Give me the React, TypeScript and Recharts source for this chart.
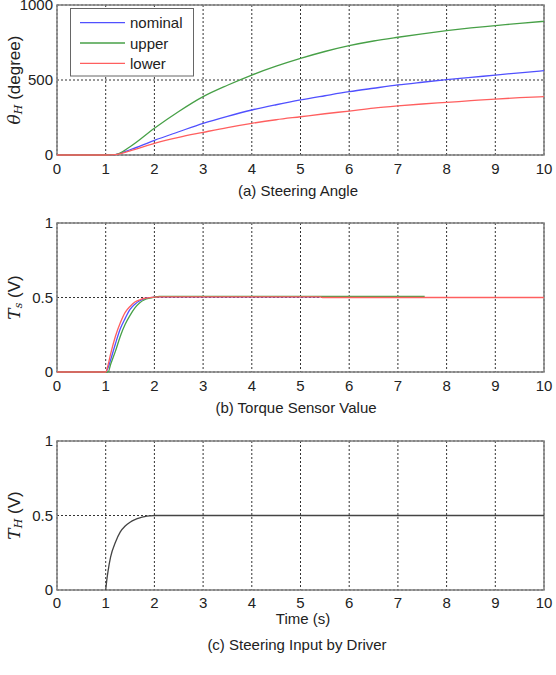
import React from 'react';
import { LineChart, Line, XAxis, YAxis, CartesianGrid, ReferenceArea } from 'recharts';

// ---- shared axis ticks ----
const timeTicks = [0, 1, 2, 3, 4, 5, 6, 7, 8, 9, 10];
const angleTicks = [0, 500, 1000];
const voltTicks = [0, 0.5, 1];

// ---- series names / colours ----
const seriesNames = ['nominal', 'upper', 'lower'];
const seriesColors = ['#5050ff', '#47a047', '#ff5f5f'];

// ---- (a) steering angle ----
const timeA = [0, 0.5, 1, 1.2, 1.5, 2, 2.5, 3, 3.5, 4, 4.5, 5, 5.5, 6, 6.5, 7, 7.5, 8, 8.5, 9, 9.5, 10];
const nominalA = [0, 0, 0, 3, 35, 98, 155, 211, 258, 300, 335, 367, 395, 422, 445, 467, 485, 502, 517, 533, 548, 562];
const upperA = [0, 0, 0, 3, 55, 178, 290, 389, 465, 533, 592, 644, 690, 729, 760, 785, 808, 829, 847, 862, 878, 891];
const lowerA = [0, 0, 0, 3, 28, 78, 118, 151, 183, 211, 235, 255, 275, 293, 312, 327, 340, 351, 362, 373, 382, 389];

// ---- (b) torque sensor value ----
const timeB = [0, 1, 1.05, 1.1, 1.2, 1.3, 1.4, 1.5, 1.6, 1.7, 1.8, 1.9, 2, 2.1, 5.4, 5.45, 7.55, 10];
const nominalB = [0, 0, 0.03, 0.08, 0.19, 0.29, 0.36, 0.42, 0.455, 0.478, 0.492, 0.498, 0.503, 0.505, 0.505, null, null, null];
const upperB = [0, 0, 0.0, 0.05, 0.14, 0.24, 0.32, 0.38, 0.43, 0.465, 0.485, 0.495, 0.502, 0.508, 0.508, 0.508, 0.508, null];
const lowerB = [0, 0, 0.05, 0.12, 0.24, 0.33, 0.4, 0.44, 0.47, 0.485, 0.495, 0.499, 0.502, 0.504, 0.504, 0.5, 0.5, 0.5];

// ---- (c) steering input by driver ----
const timeC = [1, 1.02, 1.05, 1.1, 1.2, 1.3, 1.4, 1.5, 1.6, 1.7, 1.8, 1.9, 2, 10];
const torqueC = [0, 0.06, 0.13, 0.22, 0.32, 0.39, 0.43, 0.455, 0.472, 0.484, 0.492, 0.497, 0.5, 0.5];

const tableA = timeA.map((t, i) => ({ t, nominal: nominalA[i], upper: upperA[i], lower: lowerA[i] }));
const tableB = timeB.map((t, i) => ({ t, nominal: nominalB[i], upper: upperB[i], lower: lowerB[i] }));
const tableC = timeC.map((t, i) => ({ t, th: torqueC[i] }));

const FONT = '"Liberation Sans", Arial, sans-serif';
const TEXT = '#222';
const W = 556;
const X_AXIS_H = 25;
const BOTTOM_PAD = 20;

type TitleProps = { main: string; sub: string; unit: string; viewBox?: any };

// rotated y-axis title with italic symbol and subscript
const AxisTitle = ({ main, sub, unit, viewBox }: TitleProps) => {
  const cx = 14;
  const cy = viewBox ? viewBox.y + viewBox.height / 2 : 80;
  return (
    <text
      x={cx}
      y={cy}
      transform={`rotate(-90 ${cx} ${cy})`}
      textAnchor="middle"
      dominantBaseline="central"
      fontSize={17}
      fill={TEXT}
      fontFamily={FONT}
    >
      <tspan fontStyle="italic" fontFamily='"DejaVu Serif", serif'>{main}</tspan>
      <tspan fontStyle="italic" fontFamily='"DejaVu Serif", serif' fontSize={11} dy={4}>{sub}</tspan>
      <tspan dy={-4}>{' ' + unit}</tspan>
    </text>
  );
};

type PanelProps = {
  plotTop: number;
  topPad: number;
  plotH: number;
  tickGap?: number;
  data: any[];
  yMax: number;
  yTicks: number[];
  title: TitleProps;
  children: React.ReactNode;
};

const Panel = ({ plotTop, topPad, plotH, tickGap = 6, data, yMax, yTicks, title, children }: PanelProps) => (
  <div style={{ position: 'absolute', left: 0, top: plotTop - topPad }}>
    <LineChart
      width={W}
      height={topPad + plotH + X_AXIS_H + BOTTOM_PAD}
      data={data}
      margin={{ top: topPad, right: 12, left: 0, bottom: BOTTOM_PAD }}
      style={{ fontFamily: FONT }}
    >
      <CartesianGrid stroke="#333" strokeDasharray="2 2" strokeWidth={1} />
      <XAxis
        type="number"
        dataKey="t"
        domain={[0, 10]}
        ticks={timeTicks}
        interval={0}
        height={X_AXIS_H}
        axisLine={false}
        tickLine={false}
        tickSize={2}
        tickMargin={tickGap}
        tick={{ fontSize: 15, fill: TEXT }}
      />
      <YAxis
        type="number"
        domain={[0, yMax]}
        ticks={yTicks}
        interval={0}
        width={57}
        axisLine={false}
        tickLine={false}
        tickSize={2}
        tickMargin={2}
        tick={{ fontSize: 15, fill: TEXT }}
        label={(p: any) => <AxisTitle {...title} viewBox={p.viewBox} />}
      />
      <ReferenceArea
        x1={0}
        x2={10}
        y1={0}
        y2={yMax}
        fill="none"
        fillOpacity={0}
        stroke="#808080"
        strokeWidth={1.5}
        ifOverflow="visible"
      />
      {children}
    </LineChart>
  </div>
);

const Caption = ({ text, cx, cy }: { text: string; cx: number; cy: number }) => (
  <div
    style={{
      position: 'absolute',
      left: cx - 200,
      top: cy - 8,
      width: 400,
      height: 16,
      lineHeight: '16px',
      textAlign: 'center',
      fontFamily: FONT,
      fontSize: 15,
      color: TEXT,
      whiteSpace: 'nowrap',
    }}
  >
    {text}
  </div>
);

const LegendBox = () => (
  <svg style={{ position: 'absolute', left: 0, top: 0 }} width={W} height={90}>
    <rect x={70.5} y={8.5} width={123} height={67.5} fill="#fff" stroke="#666" strokeWidth={1} />
    {seriesNames.map((name, i) => {
      const y = 22.7 + i * 20.3;
      return (
        <g key={name}>
          <line x1={80} x2={125} y1={y} y2={y} stroke={seriesColors[i]} strokeWidth={1.3} />
          <text x={130} y={y} dominantBaseline="central" fontSize={15} fill={TEXT} fontFamily={FONT}>
            {name}
          </text>
        </g>
      );
    })}
  </svg>
);

export default function App() {
  return (
    <div style={{ position: 'absolute', left: 0, top: 0, width: W, height: 675, background: '#fff', overflow: 'hidden' }}>
      <Panel plotTop={5} topPad={5} plotH={150} data={tableA} yMax={1000} yTicks={angleTicks} title={{ main: 'θ', sub: 'H', unit: '(degree)' }}>
        {seriesNames.map((name, i) => (
          <Line
            key={name}
            dataKey={name}
            type="monotone"
            stroke={seriesColors[i]}
            strokeWidth={1.3}
            dot={false}
            isAnimationActive={false}
          />
        ))}
      </Panel>
      <LegendBox />
      <Caption text="(a) Steering Angle" cx={298} cy={191} />

      <Panel plotTop={223} topPad={15} plotH={149} data={tableB} yMax={1} yTicks={voltTicks} title={{ main: 'T', sub: 's', unit: '(V)' }}>
        {[0, 1, 2].map((i) => (
          <Line
            key={seriesNames[i]}
            dataKey={seriesNames[i]}
            type="monotone"
            stroke={seriesColors[i]}
            strokeWidth={1.3}
            dot={false}
            connectNulls={false}
            isAnimationActive={false}
          />
        ))}
      </Panel>
      <Caption text="(b) Torque Sensor Value" cx={296} cy={408} />

      <Panel plotTop={441} topPad={15} plotH={149} tickGap={5} data={tableC} yMax={1} yTicks={voltTicks} title={{ main: 'T', sub: 'H', unit: '(V)' }}>
        <Line dataKey="th" type="monotone" stroke="#444" strokeWidth={1.3} dot={false} isAnimationActive={false} />
      </Panel>
      <Caption text="Time (s)" cx={303} cy={619} />
      <Caption text="(c) Steering Input by Driver" cx={297} cy={645} />
    </div>
  );
}
